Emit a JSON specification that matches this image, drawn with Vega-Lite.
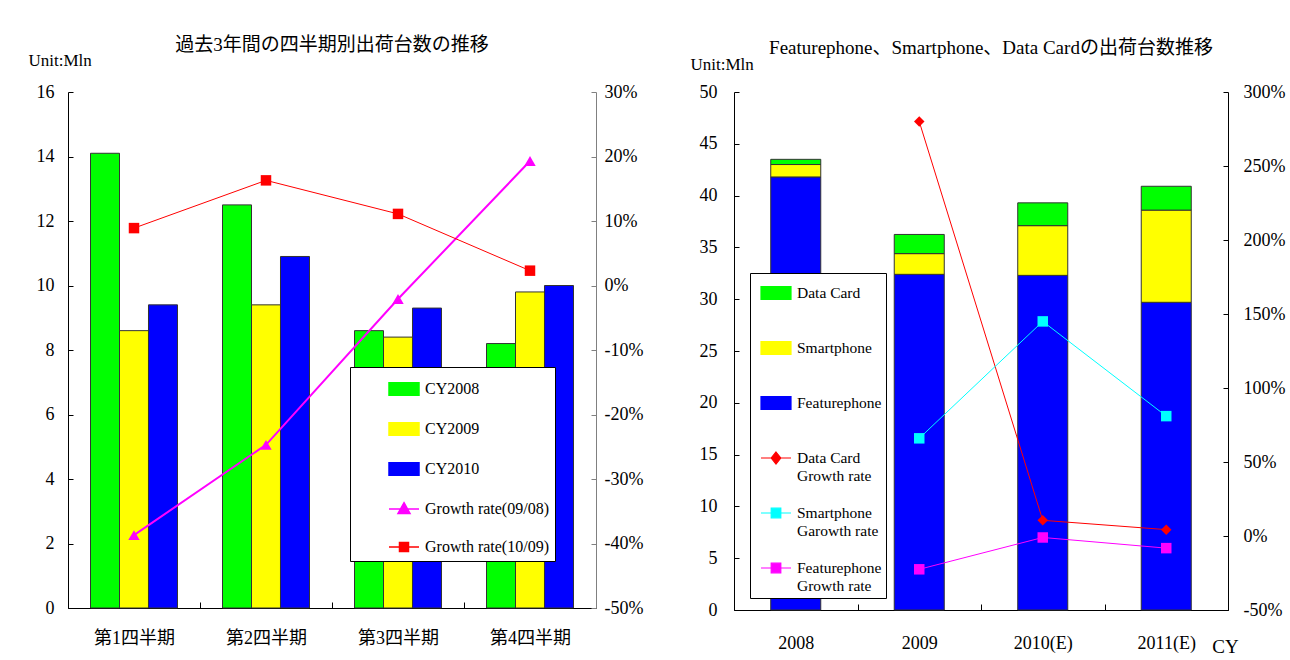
{
  "$schema": "https://vega.github.io/schema/vega-lite/v6.json",
  "background": "white",
  "padding": {"left": 28, "top": 36, "right": 5, "bottom": 5},
  "bounds": "flush",
  "spacing": 138,
  "config": {
    "view": {"stroke": null},
    "font": "Liberation Serif",
    "axis": {"grid": false, "labelFont": "Liberation Serif", "labelColor": "#000", "labelFontSize": 18, "domainColor": "#000", "tickColor": "#000", "titleFont": "Liberation Serif", "titleFontWeight": "normal", "titleColor": "#000", "titleFontSize": 17}
  },
  "datasets": {
    "left_bars": [
      {"quarter": "第1四半期", "series": "CY2008", "value": 14.1},
      {"quarter": "第1四半期", "series": "CY2009", "value": 8.6},
      {"quarter": "第1四半期", "series": "CY2010", "value": 9.4},
      {"quarter": "第2四半期", "series": "CY2008", "value": 12.5},
      {"quarter": "第2四半期", "series": "CY2009", "value": 9.4},
      {"quarter": "第2四半期", "series": "CY2010", "value": 10.9},
      {"quarter": "第3四半期", "series": "CY2008", "value": 8.6},
      {"quarter": "第3四半期", "series": "CY2009", "value": 8.4},
      {"quarter": "第3四半期", "series": "CY2010", "value": 9.3},
      {"quarter": "第4四半期", "series": "CY2008", "value": 8.2},
      {"quarter": "第4四半期", "series": "CY2009", "value": 9.8},
      {"quarter": "第4四半期", "series": "CY2010", "value": 10.0}
    ],
    "left_growth": [
      {"quarter": "第1四半期", "series": "Growth rate(09/08)", "rate": -38.7},
      {"quarter": "第2四半期", "series": "Growth rate(09/08)", "rate": -24.7},
      {"quarter": "第3四半期", "series": "Growth rate(09/08)", "rate": -2.1},
      {"quarter": "第4四半期", "series": "Growth rate(09/08)", "rate": 19.3},
      {"quarter": "第1四半期", "series": "Growth rate(10/09)", "rate": 8.9},
      {"quarter": "第2四半期", "series": "Growth rate(10/09)", "rate": 16.3},
      {"quarter": "第3四半期", "series": "Growth rate(10/09)", "rate": 11.1},
      {"quarter": "第4四半期", "series": "Growth rate(10/09)", "rate": 2.3}
    ],
    "right_bars": [
      {"year": "2008", "series": "Featurephone", "value": 41.8},
      {"year": "2008", "series": "Smartphone", "value": 1.2},
      {"year": "2008", "series": "Data Card", "value": 0.5},
      {"year": "2009", "series": "Featurephone", "value": 32.4},
      {"year": "2009", "series": "Smartphone", "value": 2.0},
      {"year": "2009", "series": "Data Card", "value": 1.85},
      {"year": "2010(E)", "series": "Featurephone", "value": 32.3},
      {"year": "2010(E)", "series": "Smartphone", "value": 4.8},
      {"year": "2010(E)", "series": "Data Card", "value": 2.2},
      {"year": "2011(E)", "series": "Featurephone", "value": 29.7},
      {"year": "2011(E)", "series": "Smartphone", "value": 8.9},
      {"year": "2011(E)", "series": "Data Card", "value": 2.3}
    ],
    "right_growth": [
      {"year": "2009", "series": "Data Card Growth rate", "rate": 280},
      {"year": "2010(E)", "series": "Data Card Growth rate", "rate": 10.6},
      {"year": "2011(E)", "series": "Data Card Growth rate", "rate": 4.3},
      {"year": "2009", "series": "Smartphone Garowth rate", "rate": 66},
      {"year": "2010(E)", "series": "Smartphone Garowth rate", "rate": 145},
      {"year": "2011(E)", "series": "Smartphone Garowth rate", "rate": 81},
      {"year": "2009", "series": "Featurephone Growth rate", "rate": -22.5},
      {"year": "2010(E)", "series": "Featurephone Growth rate", "rate": -1},
      {"year": "2011(E)", "series": "Featurephone Growth rate", "rate": -8.2}
    ]
  },
  "hconcat": [
    {
      "width": 528,
      "height": 516,
      "title": {"text": "過去3年間の四半期別出荷台数の推移", "font": "Liberation Serif, Noto Sans CJK JP", "fontSize": 19, "fontWeight": "normal", "frame": "group", "offset": -4, "anchor": "middle", "color": "#000"},
      "layer": [
        {
          "data": {"name": "left_bars"},
          "mark": {"type": "bar", "stroke": "#333", "strokeWidth": 1},
          "encoding": {
            "x": {"field": "quarter", "type": "nominal", "sort": ["第1四半期", "第2四半期", "第3四半期", "第4四半期"], "scale": {"paddingInner": 0, "paddingOuter": 0},
              "axis": {"title": null, "labelAngle": 0, "tickBand": "extent", "tickSize": -6, "labelPadding": 27, "labelFont": "Liberation Serif, Noto Sans CJK JP", "labelFontSize": 18}},
            "xOffset": {"field": "series", "type": "nominal", "sort": ["CY2008", "CY2009", "CY2010"], "scale": {"paddingInner": 0, "paddingOuter": 0.776}},
            "y": {"field": "value", "type": "quantitative", "scale": {"domain": [0, 16], "nice": false},
              "axis": {"orient": "left", "values": [0, 2, 4, 6, 8, 10, 12, 14, 16], "tickSize": -5, "labelPadding": 19, "title": "Unit:Mln", "titleAngle": 0, "titleAlign": "left", "titleBaseline": "middle", "titleX": -40, "titleY": -32}},
            "color": {"field": "series", "type": "nominal",
              "scale": {"domain": ["CY2008", "CY2009", "CY2010", "Growth rate(09/08)", "Growth rate(10/09)"], "range": ["#00ff00", "#ffff00", "#0000ff", "#ff00ff", "#ff0000"]},
              "legend": {"title": null, "orient": "none", "legendX": 282, "legendY": 275, "fillColor": "white", "strokeColor": "#000", "padding": 6, "symbolOffset": 32, "labelOffset": 5, "rowPadding": 14, "symbolSize": 900, "symbolStrokeWidth": 1.5, "labelFont": "Liberation Serif", "labelFontSize": 16, "labelColor": "#000"}}
          }
        },
        {
          "data": {"name": "left_growth"},
          "encoding": {
            "x": {"field": "quarter", "type": "nominal", "sort": ["第1四半期", "第2四半期", "第3四半期", "第4四半期"]},
            "y": {"field": "rate", "type": "quantitative", "scale": {"domain": [-50, 30], "nice": false},
              "axis": {"orient": "right", "values": [-50, -40, -30, -20, -10, 0, 10, 20, 30], "labelExpr": "datum.value + '%'", "tickSize": -5, "labelPadding": 13, "domainColor": "#808080", "tickColor": "#808080", "title": null}},
            "color": {"field": "series", "type": "nominal",
              "scale": {"domain": ["CY2008", "CY2009", "CY2010", "Growth rate(09/08)", "Growth rate(10/09)"], "range": ["#00ff00", "#ffff00", "#0000ff", "#ff00ff", "#ff0000"]}}
          },
          "layer": [
            {"transform": [{"filter": "datum.series === 'Growth rate(09/08)'"}], "mark": {"type": "line", "strokeWidth": 2}},
            {"transform": [{"filter": "datum.series === 'Growth rate(10/09)'"}], "mark": {"type": "line", "strokeWidth": 1}},
            {"transform": [{"filter": "datum.series === 'Growth rate(09/08)'"}], "mark": {"type": "point", "shape": "triangle-up", "filled": true, "opacity": 1, "size": 130}},
            {"transform": [{"filter": "datum.series === 'Growth rate(10/09)'"}], "mark": {"type": "point", "shape": "square", "filled": true, "opacity": 1, "size": 110}},
            {"transform": [{"filter": "false"}], "mark": {"type": "point", "filled": true, "opacity": 1},
              "encoding": {"shape": {"field": "series", "type": "nominal",
                "scale": {"domain": ["CY2008", "CY2009", "CY2010", "Growth rate(09/08)", "Growth rate(10/09)"],
                  "range": ["M-1,-0.42H1V0.42H-1Z", "M-1,-0.42H1V0.42H-1Z", "M-1,-0.42H1V0.42H-1Z", "M-1,0H1M0,-0.42L0.4,0.3L-0.4,0.3Z", "M-1,0H1M-0.3,-0.3H0.3V0.3H-0.3Z"]}}}}
          ]
        }
      ],
      "resolve": {"scale": {"y": "independent"}}
    },
    {
      "width": 494,
      "height": 518,
      "title": {"text": "Featurephone、Smartphone、Data Cardの出荷台数推移", "font": "Liberation Serif, Noto Sans CJK JP", "fontSize": 19, "fontWeight": "normal", "frame": "group", "offset": -3, "anchor": "middle", "dx": 10, "color": "#000"},
      "layer": [
        {
          "data": {"name": "right_bars"},
          "mark": {"type": "bar", "stroke": "#333", "strokeWidth": 1, "width": {"band": 0.405}},
          "encoding": {
            "x": {"field": "year", "type": "nominal", "sort": ["2008", "2009", "2010(E)", "2011(E)"], "scale": {"paddingInner": 0, "paddingOuter": 0},
              "axis": {"title": "CY", "titleFontSize": 19, "titleX": 491, "titleY": 36, "titleAlign": "center", "titleBaseline": "middle", "labelAngle": 0, "tickBand": "extent", "tickSize": -6, "labelPadding": 30, "labelFontSize": 18}},
            "y": {"field": "value", "type": "quantitative", "stack": "zero", "scale": {"domain": [0, 50], "nice": false},
              "axis": {"orient": "left", "values": [0, 5, 10, 15, 20, 25, 30, 35, 40, 45, 50], "tickSize": -5, "labelPadding": 22, "title": "Unit:Mln", "titleAngle": 0, "titleAlign": "left", "titleBaseline": "middle", "titleX": -44, "titleY": -28}},
            "order": {"field": "value", "sort": "descending"},
            "color": {"field": "series", "type": "nominal",
              "scale": {"domain": ["Data Card", "Smartphone", "Featurephone", "Data Card Growth rate", "Smartphone Garowth rate", "Featurephone Growth rate"], "range": ["#00ff00", "#ffff00", "#0000ff", "#ff0000", "#00ffff", "#ff00ff"]},
              "legend": {"title": null, "orient": "none", "legendX": 16, "legendY": 181, "fillColor": "white", "strokeColor": "#000", "padding": 4, "symbolOffset": 6, "labelOffset": 5, "rowPadding": 13, "gridAlign": "all", "symbolSize": 900, "symbolStrokeWidth": 1.2, "labelFont": "Liberation Serif", "labelFontSize": 15.5, "labelColor": "#000",
                "labelExpr": "indexof(datum.label, ' G') > 0 ? [slice(datum.label, 0, indexof(datum.label, ' G')), slice(datum.label, indexof(datum.label, ' G') + 1)] : datum.label"}}
          }
        },
        {
          "data": {"name": "right_growth"},
          "encoding": {
            "x": {"field": "year", "type": "nominal", "sort": ["2008", "2009", "2010(E)", "2011(E)"]},
            "y": {"field": "rate", "type": "quantitative", "scale": {"domain": [-50, 300], "nice": false},
              "axis": {"orient": "right", "values": [-50, 0, 50, 100, 150, 200, 250, 300], "labelExpr": "datum.value + '%'", "tickSize": -5, "labelPadding": 20, "title": null}},
            "color": {"field": "series", "type": "nominal",
              "scale": {"domain": ["Data Card", "Smartphone", "Featurephone", "Data Card Growth rate", "Smartphone Garowth rate", "Featurephone Growth rate"], "range": ["#00ff00", "#ffff00", "#0000ff", "#ff0000", "#00ffff", "#ff00ff"]}}
          },
          "layer": [
            {"mark": {"type": "line", "strokeWidth": 1}},
            {"transform": [{"filter": "datum.series === 'Data Card Growth rate'"}], "mark": {"type": "point", "shape": "diamond", "filled": true, "opacity": 1, "size": 110}},
            {"transform": [{"filter": "datum.series !== 'Data Card Growth rate'"}], "mark": {"type": "point", "shape": "square", "filled": true, "opacity": 1, "size": 110}},
            {"transform": [{"filter": "false"}], "mark": {"type": "point", "filled": true, "opacity": 1},
              "encoding": {"shape": {"field": "series", "type": "nominal",
                "scale": {"domain": ["Data Card", "Smartphone", "Featurephone", "Data Card Growth rate", "Smartphone Garowth rate", "Featurephone Growth rate"],
                  "range": ["M-1,-0.42H1V0.42H-1Z", "M-1,-0.42H1V0.42H-1Z", "M-1,-0.42H1V0.42H-1Z", "M-1,0H1M0,-0.4L0.32,0L0,0.4L-0.32,0Z", "M-1,0H1M-0.32,-0.32H0.32V0.32H-0.32Z", "M-1,0H1M-0.32,-0.32H0.32V0.32H-0.32Z"]}}}}
          ]
        }
      ],
      "resolve": {"scale": {"y": "independent"}}
    }
  ],
  "resolve": {"scale": {"color": "independent", "shape": "independent"}}
}
